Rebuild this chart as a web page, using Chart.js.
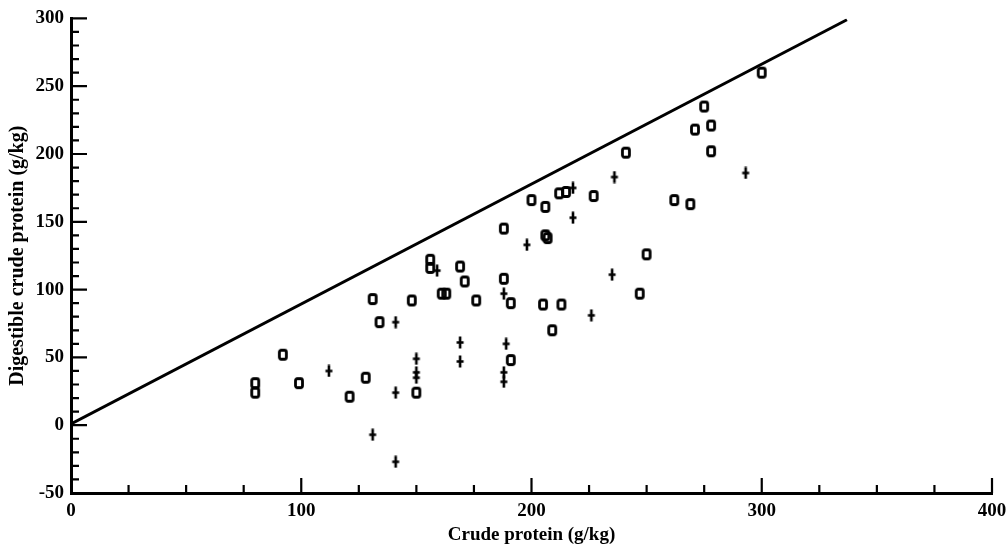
<!DOCTYPE html>
<html>
<head>
<meta charset="utf-8">
<script src="https://cdn.jsdelivr.net/npm/chart.js@4.4.0/dist/chart.umd.min.js"></script>
<style>
  html, body { margin: 0; padding: 0; background: #fff; }
  #wrap { width: 1006px; height: 546px; }
</style>
</head>
<body>
<div id="wrap"><canvas id="proteinChart"></canvas></div>
<script>
// open squares
const squareX = [300, 275, 271, 278, 278, 241, 262, 269, 200, 206, 212, 215, 227, 188, 206, 207,
                 250, 247, 156, 156, 169, 171, 188, 131, 148, 161, 163, 176, 191, 205, 213, 134,
                 209, 191, 150, 128, 121, 99, 92, 80, 80];
const squareY = [260, 235, 218, 221, 202, 201, 166, 163, 166, 161, 171, 172, 169, 145, 140, 138,
                 126, 97, 122, 116, 117, 106, 108, 93, 92, 97, 97, 92, 90, 89, 89, 76,
                 70, 48, 24, 35, 21, 31, 52, 31, 24];

// crosses
const crossX = [236, 293, 218, 218, 198, 235, 226, 141, 169, 189, 169, 150, 150, 150, 188, 188,
                112, 141, 131, 141, 159, 188];
const crossY = [183, 186, 175, 153, 133, 111, 81, 76, 61, 60, 47, 49, 39, 35, 39, 32,
                40, 24, -7, -27, 114, 97];

// reference line
const lineX = [0, 337];
const lineY = [1, 299];

const xTitle = 'Crude protein (g/kg)';
const yTitle = 'Digestible crude protein (g/kg)';

const toPoints = (xs, ys) => xs.map((v, i) => ({ x: v, y: ys[i] }));

// marker images
function makeSquare() {
    const c = document.createElement('canvas');
    c.width = 12; c.height = 14;
    const g = c.getContext('2d');
    g.strokeStyle = '#000';
    g.lineWidth = 2.8;
    g.beginPath();
    g.roundRect(2.5, 2.5, 7, 9, 2);
    g.stroke();
    return c;
}
function makeCross() {
    const c = document.createElement('canvas');
    c.width = 10; c.height = 13;
    const g = c.getContext('2d');
    g.strokeStyle = '#000';
    g.lineWidth = 2.6;
    g.beginPath();
    g.moveTo(5, 0.5); g.lineTo(5, 12.5);
    g.moveTo(1.5, 6.5); g.lineTo(8.5, 6.5);
    g.stroke();
    return c;
}

// ticks pointing into the plot
const inwardTicks = {
    id: 'inwardTicks',
    afterDraw(chart) {
        const { ctx, chartArea, scales: { x, y } } = chart;
        ctx.save();
        ctx.strokeStyle = '#000';
        ctx.lineWidth = 2.2;
        ctx.beginPath();
        y.ticks.forEach(t => {
            const py = y.getPixelForValue(t.value);
            const len = t.value % 50 === 0 ? 16 : 8;
            ctx.moveTo(chartArea.left, py);
            ctx.lineTo(chartArea.left + len, py);
        });
        x.ticks.forEach(t => {
            if (t.value === 0) return;
            const px = x.getPixelForValue(t.value);
            const len = t.value % 100 === 0 ? 15 : 8;
            ctx.moveTo(px, chartArea.bottom);
            ctx.lineTo(px, chartArea.bottom - len);
        });
        ctx.stroke();
        ctx.restore();
    }
};

const font = { family: '"Liberation Serif", "Times New Roman", serif', weight: 'bold', size: 19 };

new Chart(document.getElementById('proteinChart'), {
    type: 'scatter',
    data: {
        datasets: [
            {
                data: toPoints(lineX, lineY),
                showLine: true,
                borderColor: '#000',
                borderWidth: 3,
                pointRadius: 0
            },
            {
                data: toPoints(squareX, squareY),
                pointStyle: makeSquare()
            },
            {
                data: toPoints(crossX, crossY),
                pointStyle: makeCross()
            }
        ]
    },
    options: {
        responsive: true,
        maintainAspectRatio: false,
        animation: false,
        layout: { padding: { top: 15, right: 0, left: 0, bottom: 0 } },
        plugins: { legend: { display: false }, tooltip: { enabled: false } },
        scales: {
            x: {
                type: 'linear',
                min: 0, max: 400,
                ticks: {
                    stepSize: 25, autoSkip: false, maxRotation: 0,
                    color: '#000', font: font, padding: 7,
                    callback: v => v % 100 === 0 ? v : ''
                },
                grid: { drawOnChartArea: false, drawTicks: false },
                border: { color: '#000', width: 3 },
                title: { display: true, text: xTitle, color: '#000', font: font, padding: { top: 1, bottom: 0 } },
                afterFit: s => { s.height = 53; s.paddingRight = 14; s.paddingLeft = 0; }
            },
            y: {
                type: 'linear',
                min: -50, max: 300,
                ticks: {
                    stepSize: 10, autoSkip: false,
                    color: '#000', font: font, padding: 7,
                    callback: v => v % 50 === 0 ? v : ''
                },
                grid: { drawOnChartArea: false, drawTicks: false },
                border: { color: '#000', width: 3 },
                title: { display: true, text: yTitle, color: '#000', font: { ...font, size: 20 }, padding: { top: 6, bottom: 0 } },
                afterFit: s => { s.width = 71; }
            }
        }
    },
    plugins: [inwardTicks]
});
</script>
</body>
</html>
